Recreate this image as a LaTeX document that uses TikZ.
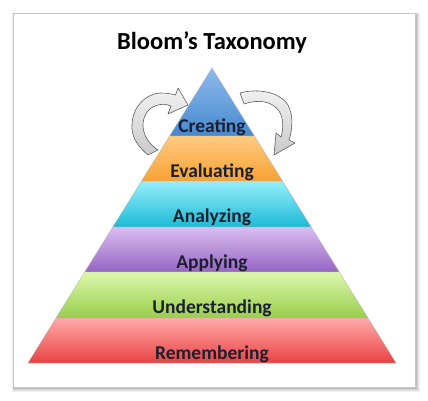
\documentclass[tikz,border=0pt]{standalone}
\usepackage{fontspec}
\setmainfont{Carlito}
\definecolor{txt}{RGB}{28,32,46}
\definecolor{arrline}{RGB}{95,95,95}
\begin{document}
\begin{tikzpicture}[x=1pt,y=-1pt,
  band/.style={draw=white!70!black, line width=0.3pt},
  lbl/.style={anchor=base, font=\fontsize{19.5}{22}\selectfont\bfseries, text=txt, inner sep=0pt},
  cyc/.style={draw=arrline, line width=0.6pt, top color=gray!10, bottom color=gray!42, line join=round}]
\useasboundingbox (0,0) rectangle (428,400);
% frame shadow
\foreach \s in {1,...,6}{
  \fill[black, opacity=0.06] (13-0.4*\s+1.5,13-0.4*\s+2) rectangle (415+0.8*\s,387+0.8*\s);
}
\draw[fill=white, draw=black!22, line width=0.5pt] (13,13) rectangle (415,387);
% title
\node[anchor=base, font=\fontsize{24.5}{28}\selectfont\bfseries, inner sep=0pt] (title) at (212,49) {Bloom’s Taxonomy};
% bands
\path[band, top color={rgb,255:red,143;green,187;blue,234}, bottom color={rgb,255:red,70;green,136;blue,208}]
  (212,68) -- (254.4,136) -- (169.6,136) -- cycle;
\path[band, top color={rgb,255:red,255;green,204;blue,130}, bottom color={rgb,255:red,247;green,160;blue,50}]
  (169.6,136) -- (254.4,136) -- (282.5,181) -- (141.5,181) -- cycle;
\path[band, top color={rgb,255:red,150;green,238;blue,250}, bottom color={rgb,255:red,28;green,186;blue,214}]
  (141.5,181) -- (282.5,181) -- (311.2,227) -- (112.8,227) -- cycle;
\path[band, top color={rgb,255:red,218;green,190;blue,240}, bottom color={rgb,255:red,150;green,100;blue,196}]
  (112.8,227) -- (311.2,227) -- (339.3,272) -- (84.7,272) -- cycle;
\path[band, top color={rgb,255:red,220;green,248;blue,172}, bottom color={rgb,255:red,152;green,206;blue,76}]
  (84.7,272) -- (339.3,272) -- (368,318) -- (56,318) -- cycle;
\path[band, top color={rgb,255:red,255;green,170;blue,170}, bottom color={rgb,255:red,232;green,66;blue,66}]
  (56,318) -- (368,318) -- (396,363) -- (28,363) -- cycle;
% labels
\node[lbl] (creating) at (212,132.5) {Creating};
\node[lbl] (evaluating) at (212,177.3) {Evaluating};
\node[lbl] (analyzing) at (212,222.5) {Analyzing};
\node[lbl] (applying) at (212,268.2) {Applying};
\node[lbl] (understanding) at (212,313.5) {Understanding};
\node[lbl] (remembering) at (212,359.5) {Remembering};
% cycle arrows
\path[cyc] (148,155) .. controls (136,145) and (131,135) .. (132,124)
  .. controls (133,106) and (146,94) .. (160,93)
  .. controls (167,93) and (172,94) .. (175.5,95)
  -- (178,88) -- (188,105) -- (168,114) -- (171,106)
  .. controls (166,104) and (162,104) .. (158,105)
  .. controls (149,107) and (143,115) .. (143,125)
  .. controls (143,136) and (150,145) .. (158,150) -- cycle;
\path[cyc] (240,93) .. controls (258,88) and (280,92) .. (288,105)
  .. controls (293,114) and (293,128) .. (289,140)
  -- (295,143) -- (274,155) -- (276,133) -- (281,137)
  .. controls (284,127) and (283,117) .. (279,111)
  .. controls (272,101) and (258,99) .. (244,104) -- cycle;
\end{tikzpicture}
\end{document}
